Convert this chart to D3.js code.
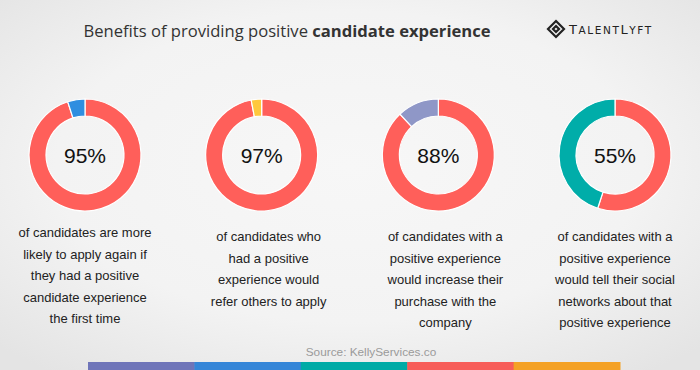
<html>
<script src='https://d3js.org/d3.v7.min.js'></script>
<style>
    body { margin: 0; }
    svg text { font-family: 'Liberation Sans', Arial, sans-serif; }
</style>

<body onload='init()'>
    <svg width=700 height=370></svg>
    <script>
        // chart data
        const categories = ['apply again', 'refer others', 'increase purchase', 'tell networks'];
        const percents = [95, 97, 88, 55];
        const restColors = ['#2f8ee0', '#ffc83d', '#8f97c7', '#00ada9'];
        const captions = [
            ['of candidates are more', 'likely to apply again if', 'they had a positive', 'candidate experience', 'the first time'],
            ['of candidates who', 'had a positive', 'experience would', 'refer others to apply'],
            ['of candidates with a', 'positive experience', 'would increase their', 'purchase with the', 'company'],
            ['of candidates with a', 'positive experience', 'would tell their social', 'networks about that', 'positive experience']
        ];
        const stripeColors = ['#6f75b9', '#3586d8', '#00aba6', '#f75d59', '#f4a125'];

        function init() {
            const svg = d3.select('svg');
            const W = 700, H = 370;

            // background
            const grad = svg.append('defs').append('radialGradient')
                .attr('id', 'bg').attr('cx', '50%').attr('cy', '45%').attr('r', '70%');
            grad.append('stop').attr('offset', '0%').attr('stop-color', '#f7f7f7');
            grad.append('stop').attr('offset', '60%').attr('stop-color', '#f3f3f3');
            grad.append('stop').attr('offset', '100%').attr('stop-color', '#e4e4e4');
            svg.append('rect').attr('width', W).attr('height', H).attr('fill', 'url(#bg)');

            // title
            const title = svg.append('text')
                .attr('x', 287).attr('y', 37)
                .attr('text-anchor', 'middle')
                .style('font-family', "'Open Sans', sans-serif")
                .style('font-size', '16.6px')
                .attr('fill', '#333');
            title.append('tspan').text('Benefits of providing positive ');
            title.append('tspan').attr('font-weight', 'bold').text('candidate experience');

            // logo
            const logo = svg.append('g').attr('transform', 'translate(556,29)');
            logo.append('path')
                .attr('d', 'M0,-8 L8,0 L0,8 L-8,0 Z M0,-3 L3,0 L0,3 L-3,0 Z')
                .attr('fill', 'none').attr('stroke', '#222').attr('stroke-width', 2.2)
                .attr('stroke-linejoin', 'miter');
            const lt = logo.append('text').attr('x', 13).attr('y', 5)
                .style('font-family', "'DejaVu Sans', sans-serif")
                .attr('fill', '#222').style('letter-spacing', '1.6px');
            [['T', 13], ['ALENT', 10.5], ['L', 13], ['YFT', 10.5]].forEach(p => {
                lt.append('tspan').style('font-size', p[1] + 'px').text(p[0]);
            });

            // donuts
            const x = d3.scalePoint().domain(categories).range([85, 615]);
            const cy = 155;
            const pie = d3.pie().sort(null).value(d => d);
            const arc = d3.arc().innerRadius(39).outerRadius(56);

            categories.forEach((c, i) => {
                const g = svg.append('g').attr('transform', 'translate(' + x(c) + ',' + cy + ')');
                g.selectAll('path')
                    .data(pie([percents[i], 100 - percents[i]]))
                    .enter()
                    .append('path')
                    .attr('d', arc)
                    .attr('fill', (d, j) => j === 0 ? '#ff5f5a' : restColors[i])
                    .attr('stroke', '#fff')
                    .attr('stroke-width', 1.2);
                g.append('text')
                    .attr('text-anchor', 'middle')
                    .attr('y', 8)
                    .style('font-size', '21px')
                    .attr('fill', '#111')
                    .text(percents[i] + '%');

                const firstY = i === 0 ? 237 : 241;
                svg.append('text')
                    .attr('text-anchor', 'middle')
                    .attr('x', x(c))
                    .attr('y', firstY)
                    .style('font-size', '13px')
                    .attr('fill', '#222')
                    .selectAll('tspan')
                    .data(captions[i])
                    .enter()
                    .append('tspan')
                    .attr('x', x(c) + (i === 1 || i === 2 ? 7 : 0))
                    .attr('dy', (d, j) => j === 0 ? 0 : 21.5)
                    .text(d => d);
            });

            // source
            svg.append('text')
                .attr('x', 371).attr('y', 356)
                .attr('text-anchor', 'middle')
                .style('font-size', '11.8px')
                .attr('fill', '#9a9a9a')
                .text('Source: KellyServices.co');

            // bottom stripe
            const band = d3.scaleBand().domain(d3.range(stripeColors.length)).range([88, 620]);
            svg.selectAll('rect.stripe')
                .data(stripeColors)
                .enter()
                .append('rect')
                .attr('class', 'stripe')
                .attr('x', (d, i) => band(i))
                .attr('y', 362)
                .attr('width', band.bandwidth() + 0.5)
                .attr('height', 8)
                .attr('fill', d => d);
        }
    </script>
</body>

</html>
